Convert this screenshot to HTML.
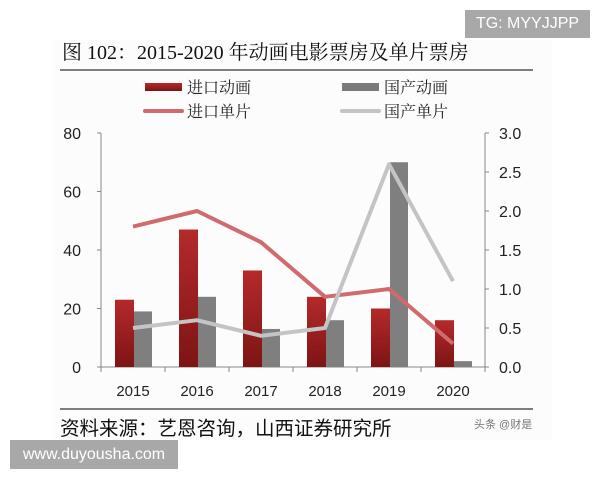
<!DOCTYPE html>
<html><head><meta charset="utf-8"><style>
body{margin:0;width:600px;height:480px;background:#fff;position:relative;overflow:hidden;font-family:"Liberation Sans","Noto Sans CJK SC",sans-serif}
.abs{position:absolute}
</style></head><body>
<div class="abs" style="left:52px;top:40px;width:500px;height:400px;background:#fcfcfc"></div>
<div class="abs" style="left:465px;top:10px;width:125px;height:28px;background:#a8a8a8;color:#fff;font-size:16px;line-height:28px;text-align:center">TG: MYYJJPP</div>
<div class="abs" style="left:62px;top:36px;font-family:'Liberation Serif','Noto Serif CJK SC',serif;font-size:20px;color:#111;white-space:nowrap">图 102：2015-2020 年动画电影票房及单片票房</div>
<svg class="abs" style="left:0;top:0" width="600" height="480" id="chart"></svg>
<div class="abs" style="left:60px;top:412px;font-size:19.5px;color:#111;white-space:nowrap">资料来源：艺恩咨询，山西证券研究所</div>
<div class="abs" style="left:474px;top:416px;font-size:11px;color:#777">头条 @财是</div>
<div class="abs" style="left:10px;top:440px;width:168px;height:29px;background:#a8a8a8;color:#fff;font-size:16px;line-height:29px;text-align:center">www.duyousha.com</div>
<script>
const years=["2015","2016","2017","2018","2019","2020"];
const importAnim=[23,47,33,24,20,16];
const domesticAnim=[19,24,13,16,70,2];
const importSingle=[1.8,2.0,1.6,0.9,1.0,0.3];
const domesticSingle=[0.5,0.6,0.4,0.5,2.6,1.1];
const leftTicks=[0,20,40,60,80];
const rightTicks=["0.0","0.5","1.0","1.5","2.0","2.5","3.0"];
const NS="http://www.w3.org/2000/svg",svg=document.getElementById('chart');
const L=101,R=485,T=133,B=367,cw=(R-L)/years.length;
const yL=v=>B-(v/80)*(B-T), yR=v=>B-(v/3)*(B-T), xc=i=>L+cw*(i+0.5);
function mk(t,a,txt){const e=document.createElementNS(NS,t);for(const k in a)e.setAttribute(k,a[k]);if(txt!==undefined)e.textContent=txt;svg.appendChild(e);return e;}
const defs=mk('defs',{});
defs.innerHTML='<linearGradient id="rg" x1="0" y1="0" x2="0" y2="1"><stop offset="0" stop-color="#b52a2a"/><stop offset="1" stop-color="#7d1414"/></linearGradient>';
let e;
e=mk('line',{x1:60,y1:70,x2:533,y2:70,stroke:'#555','stroke-width':1.5});

e=mk('line',{x1:60,y1:409,x2:533,y2:409,stroke:'#555','stroke-width':1.5});

const lg=[["进口动画",145,87,'rect','url(#rg)'],["国产动画",342,87,'rect','#7a7a7a'],["进口单片",145,111,'line','#d06a6e'],["国产单片",342,111,'line','#c4c4c4']];
lg.forEach(g=>{
 if(g[3]=='rect'){e=mk('rect',{x:g[1],y:g[2]-4,width:37,height:8,fill:g[4]});}
 else{e=mk('line',{x1:g[1],y1:g[2],x2:g[1]+37,y2:g[2],stroke:g[4],'stroke-width':4,'stroke-linecap':'round'});}
 
 e=mk('text',{x:g[1]+42,y:g[2]+6,'font-size':16,fill:'#222','font-family':"Liberation Serif,'Noto Serif CJK SC',serif"},g[0]);
 
});
e=mk('line',{x1:L,y1:T,x2:L,y2:B,stroke:'#888'});
e=mk('line',{x1:R,y1:T,x2:R,y2:B,stroke:'#888'});
e=mk('line',{x1:L,y1:B,x2:R,y2:B,stroke:'#888'});
leftTicks.forEach(v=>{mk('line',{x1:L-4,y1:yL(v),x2:L,y2:yL(v),stroke:'#888'});
 e=mk('text',{x:L-20,y:yL(v)+6,'font-size':16,'text-anchor':'end',fill:'#222'},v);});
rightTicks.forEach(v=>{mk('line',{x1:R,y1:yR(+v),x2:R+4,y2:yR(+v),stroke:'#888'});
 e=mk('text',{x:R+14,y:yR(+v)+6,'font-size':16,fill:'#222'},v);});
years.forEach((y,i)=>{const x=L+cw*i;mk('line',{x1:x,y1:B,x2:x,y2:B+5,stroke:'#888'});
 e=mk('text',{x:xc(i),y:B+29,'font-size':15,'text-anchor':'middle',fill:'#222'},y);});
mk('line',{x1:R,y1:B,x2:R,y2:B+5,stroke:'#888'});
years.forEach((y,i)=>{
 e=mk('rect',{x:xc(i)-18,y:yL(importAnim[i]),width:19,height:B-yL(importAnim[i]),fill:'url(#rg)'});
 
 e=mk('rect',{x:xc(i)+1,y:yL(domesticAnim[i]),width:18,height:B-yL(domesticAnim[i]),fill:'#7f7f7f'});
 
});
e=mk('polyline',{points:importSingle.map((v,i)=>xc(i)+','+yR(v)).join(' '),fill:'none',stroke:'#d06a6e','stroke-width':4,'stroke-linejoin':'round'});

e=mk('polyline',{points:domesticSingle.map((v,i)=>xc(i)+','+yR(v)).join(' '),fill:'none',stroke:'#c4c4c4','stroke-width':4,'stroke-linejoin':'round'});

</script>
</body></html>
